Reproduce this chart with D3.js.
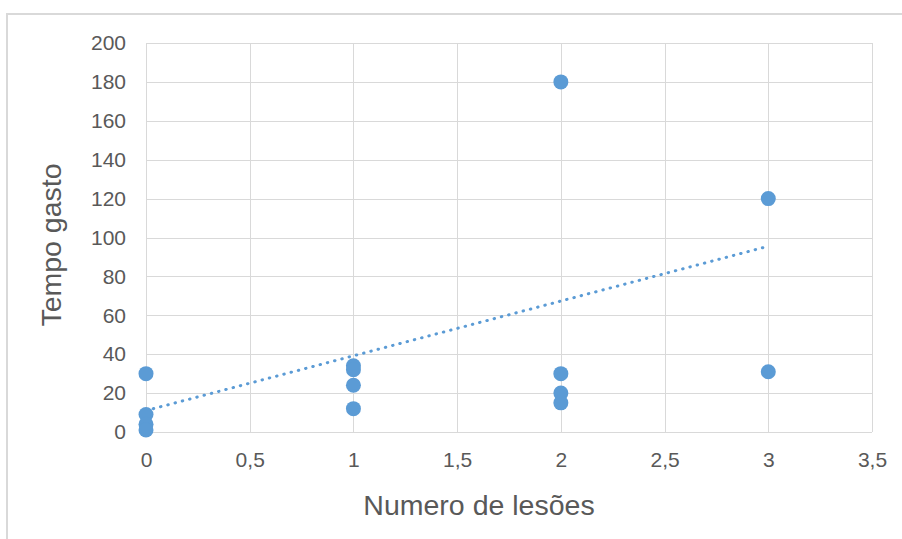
<!DOCTYPE html>
<html>
<head>
<meta charset="utf-8">
<script src="https://cdn.jsdelivr.net/npm/d3@7"></script>
<style>
  html, body { margin: 0; padding: 0; background: #ffffff; }
  svg { display: block; font-family: "Liberation Sans", Arial, sans-serif; }
</style>
</head>
<body>
<svg id="chart" width="902" height="539"></svg>
<script>
// Number of lesions per patient
const lesoes = [0, 0, 0, 0, 1, 1, 1, 1, 2, 2, 2, 2, 3, 3];
// Time spent for each patient
const tempo = [30, 9, 4, 1, 34, 32, 24, 12, 180, 30, 20, 15, 120, 31];
// Linear trend line, start and end values
const trendX = [0, 3];
const trendY = [11, 95.5];
// Axis ticks
const xTicks = [0, 0.5, 1, 1.5, 2, 2.5, 3, 3.5];
const yTicks = [0, 20, 40, 60, 80, 100, 120, 140, 160, 180, 200];

const svg = d3.select("#chart");
const blue = "#5B9BD5";
const grid = "#d9d9d9";
const textColor = "#595959";

// Chart frame
svg.append("path")
  .attr("d", "M7,540 L7,14 L903,14")
  .attr("fill", "none")
  .attr("stroke", grid)
  .attr("stroke-width", 2);

const x = d3.scaleLinear().domain([0, 3.5]).range([146, 872]);
const y = d3.scaleLinear().domain([0, 200]).range([432, 43]);

// Gridlines
const g = svg.append("g");
g.selectAll("line.v").data(xTicks).join("line")
  .attr("class", "v")
  .attr("x1", d => Math.round(x(d)) + 0.5).attr("x2", d => Math.round(x(d)) + 0.5)
  .attr("y1", y(0)).attr("y2", y(200))
  .attr("stroke", grid).attr("stroke-width", 1);
g.selectAll("line.h").data(yTicks).join("line")
  .attr("class", "h")
  .attr("y1", d => Math.round(y(d)) + 0.5).attr("y2", d => Math.round(y(d)) + 0.5)
  .attr("x1", x(0)).attr("x2", x(3.5))
  .attr("stroke", grid).attr("stroke-width", 1);

// Axes (labels only)
const xAxis = svg.append("g")
  .attr("transform", `translate(0,${y(0)})`)
  .call(d3.axisBottom(x).tickValues(xTicks).tickSize(0).tickPadding(20)
    .tickFormat(d => String(d).replace(".", ",")));
const yAxis = svg.append("g")
  .attr("transform", `translate(${x(0)},0)`)
  .call(d3.axisLeft(y).tickValues(yTicks).tickSize(0).tickPadding(20));
[xAxis, yAxis].forEach(a => {
  a.select(".domain").remove();
  a.selectAll("text")
    .attr("fill", textColor)
    .style("font-size", "21px")
    .style("font-family", "'Liberation Sans', Arial, sans-serif");
});

// Trend line
svg.append("line")
  .attr("x1", x(trendX[0])).attr("y1", y(trendY[0]))
  .attr("x2", x(trendX[1])).attr("y2", y(trendY[1]))
  .attr("stroke", blue)
  .attr("stroke-width", 3)
  .attr("stroke-linecap", "round")
  .attr("stroke-dasharray", "0.5 7");

// Points
svg.append("g").selectAll("circle")
  .data(lesoes.map((d, i) => [d, tempo[i]]))
  .join("circle")
  .attr("cx", d => x(d[0]))
  .attr("cy", d => y(d[1]))
  .attr("r", 7.5)
  .attr("fill", blue);

// Axis titles
svg.append("text")
  .attr("x", 479)
  .attr("y", 514.5)
  .attr("text-anchor", "middle")
  .attr("fill", textColor)
  .style("font-size", "28.5px")
  .text("Numero de lesões");

svg.append("text")
  .attr("transform", "translate(61,245) rotate(-90)")
  .attr("text-anchor", "middle")
  .attr("fill", textColor)
  .style("font-size", "28.5px")
  .text("Tempo gasto");
</script>
</body>
</html>
